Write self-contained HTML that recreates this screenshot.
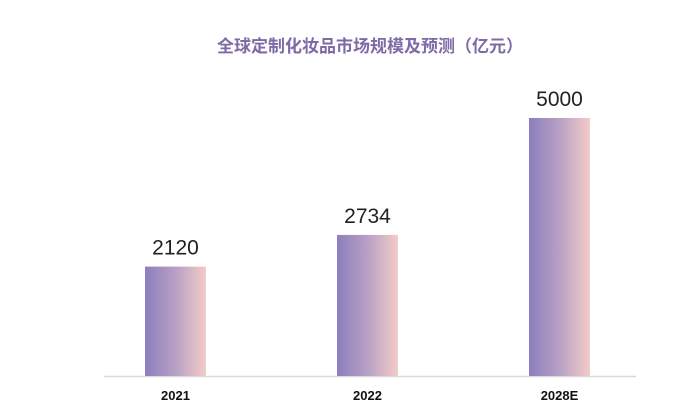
<!DOCTYPE html>
<html><head><meta charset="utf-8"><style>
body{margin:0;background:#fff;width:700px;height:415px;overflow:hidden;font-family:"Liberation Sans","Noto Sans CJK SC",sans-serif}
</style></head><body>
<svg width="700" height="415">
<defs><linearGradient id="g" x1="0" x2="1" y1="0" y2="0"><stop offset="0" stop-color="#8c7fbd"/><stop offset="0.5" stop-color="#b8a0c4"/><stop offset="1" stop-color="#f4cbc9"/></linearGradient></defs>
<text x="370" y="52" text-anchor="middle" font-size="17" font-weight="bold" fill="#7d6aa6" font-family="Liberation Sans, Noto Sans CJK SC, sans-serif">全球定制化妆品市场规模及预测（亿元）</text>
<line x1="104" x2="636" y1="376.5" y2="376.5" stroke="#d9d9d9" stroke-width="1.5"/>
<g id="bars"></g>
</svg>
<script>
const categories=["2021","2022","2028E"];
const values=[2120,2734,5000];
const svg=document.getElementById('bars');const NS="http://www.w3.org/2000/svg";
const base=376, top0=118, maxV=5000;
const y=v=>base-(v/maxV)*(base-top0);
const xc=i=>175.5+i*192;
categories.forEach((c,i)=>{
 const r=document.createElementNS(NS,'rect');
 
 
 r.setAttribute('x',xc(i)-30.5);r.setAttribute('width',61);r.setAttribute('y',y(values[i]));r.setAttribute('height',base-y(values[i]));r.setAttribute('fill','url(#g)');svg.appendChild(r);
 const t=document.createElementNS(NS,'text');
 
 
 t.setAttribute('x',xc(i));t.setAttribute('y',y(values[i])-12);t.setAttribute('text-anchor','middle');t.setAttribute('font-size','21');t.setAttribute('fill','#222');t.textContent=values[i];svg.appendChild(t);
 const l=document.createElementNS(NS,'text');
 
 
 l.setAttribute('x',xc(i));l.setAttribute('y',400);l.setAttribute('text-anchor','middle');l.setAttribute('font-size','13');l.setAttribute('font-weight','bold');l.setAttribute('fill','#111');l.textContent=c;svg.appendChild(l);
});
</script>
</body></html>
